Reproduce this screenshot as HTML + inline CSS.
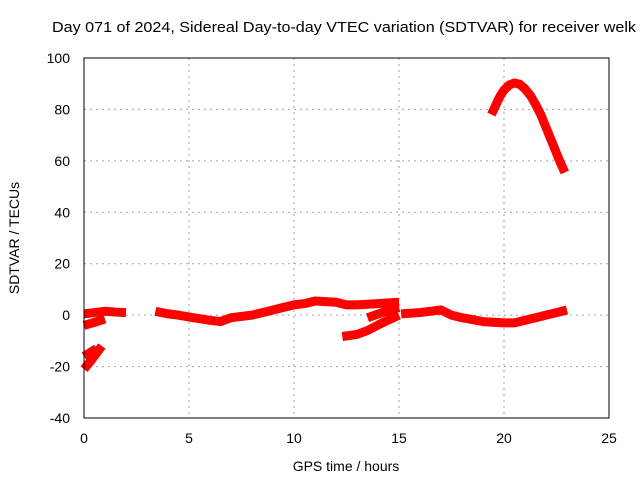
<!DOCTYPE html>
<html><head><meta charset="utf-8"><style>
body{margin:0;background:#fff;}
svg text{font-family:"Liberation Sans",sans-serif;fill:#000;}
</style></head><body>
<svg id="chart" width="640" height="480">
<text x="344" y="32" font-size="15" text-anchor="middle" textLength="584" lengthAdjust="spacingAndGlyphs">Day 071 of 2024, Sidereal Day-to-day VTEC variation (SDTVAR) for receiver welk</text>
<g id="grid"></g>
<g id="series"></g>
<rect x="84" y="58" width="525" height="360" fill="none" stroke="#000" stroke-width="1"/>
<g id="ticks"></g>
<text x="346" y="471" font-size="14" text-anchor="middle">GPS time / hours</text>
<text x="19" y="238" font-size="14" text-anchor="middle" transform="rotate(-90 19 238)">SDTVAR / TECUs</text>
</svg>
<script>
const xTicks=[0,5,10,15,20,25];
const yTicks=[-40,-20,0,20,40,60,80,100];
const segA=[[0,0.5],[0.5,1],[1,1.5],[1.5,1.2],[2,1]];
const segB=[[3.4,1.5],[4,0.5],[4.5,0],[5.2,-1],[6,-2],[6.5,-2.5],[7,-1],[8,0],[8.5,1],[9,2],[9.5,3],[10,4],[10.5,4.5],[11,5.5],[12,5],[12.5,4],[13,4],[14,4.5],[15,5]];
const segC=[[0,-4],[0.5,-2.8],[1,-1.5]];
const segD=[[0,-21],[0.4,-17],[0.85,-12]];
const segD2=[[0,-16],[0.3,-14.5],[0.6,-13]];
const segE=[[12.3,-8.3],[13,-7.5],[13.5,-6],[14.2,-3],[15,0]];
const segE2=[[13.5,-1],[14.2,1],[15,3]];
const segF=[[15.1,0.5],[16,1],[17,2],[17.5,0],[18,-1],[19,-2.5],[20,-3],[20.5,-3],[21,-2],[21.5,-1],[22,0],[22.5,1],[23,2]];
const segPeak=[[19.4,78],[19.6,81.5],[19.8,85],[20,87.5],[20.25,89.5],[20.5,90.3],[20.75,89.8],[21,88],[21.25,85.5],[21.5,82],[21.75,78],[22,73],[22.25,68],[22.5,63],[22.7,59],[22.9,55.5]];
const segments=[segA,segB,segC,segD,segD2,segE,segE2,segF,segPeak];
const NS='http://www.w3.org/2000/svg';
const X=h=>84+h*21, Y=v=>58+(100-v)*360/140;
const grid=document.getElementById('grid'),ticks=document.getElementById('ticks'),ser=document.getElementById('series');
function mk(tag,attrs,parent){const e=document.createElementNS(NS,tag);for(const k in attrs)e.setAttribute(k,attrs[k]);parent.appendChild(e);return e;}
xTicks.forEach(t=>{
 if(t>0&&t<25){const g=mk('line',{x1:X(t),x2:X(t),y1:58,y2:418,stroke:'#a0a0a0','stroke-dasharray':'2,4'},grid);
 
 }
 const tx=mk('text',{x:X(t),y:443,'font-size':14,'text-anchor':'middle'},ticks);tx.textContent=t;
 
 
});
yTicks.forEach(t=>{
 if(t>-40&&t<100){const g=mk('line',{x1:84,x2:609,y1:Y(t),y2:Y(t),stroke:'#a0a0a0','stroke-dasharray':'2,4'},grid);
 
 }
 const tx=mk('text',{x:70,y:Y(t)+5,'font-size':14,'text-anchor':'end'},ticks);tx.textContent=t;
 
 
});
segments.forEach(s=>{
 const p=mk('polyline',{points:s.map(d=>X(d[0])+','+Y(d[1])).join(' '),fill:'none',stroke:'#ff0000','stroke-width':9,'stroke-linejoin':'round'},ser);
 
 
});
</script>
</body></html>
